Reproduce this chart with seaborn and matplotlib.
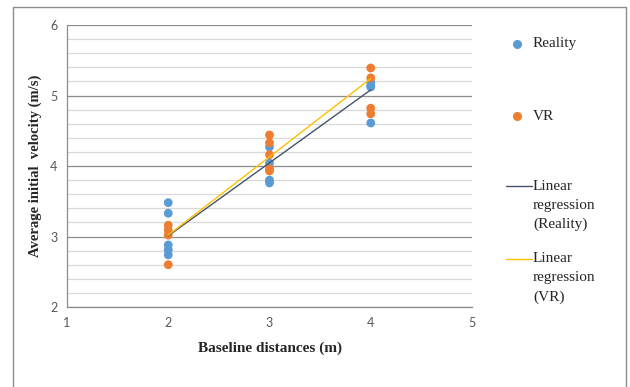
import pandas as pd
import matplotlib.pyplot as plt
import seaborn as sns
from matplotlib.lines import Line2D
from matplotlib.patches import Rectangle
from matplotlib.ticker import MultipleLocator

# punctele masurate
dist_reality = [2, 2, 2, 2, 2, 3, 3, 3, 3, 4, 4, 4, 4]
vel_reality = [3.48, 3.33, 2.88, 2.81, 2.74, 4.27, 4.04, 3.80, 3.76, 5.19, 5.14, 5.12, 4.61]
dist_vr = [2, 2, 2, 2, 3, 3, 3, 3, 3, 4, 4, 4, 4]
vel_vr = [3.16, 3.09, 3.02, 2.60, 4.44, 4.33, 4.16, 3.96, 3.93, 5.39, 5.25, 4.82, 4.74]

# dreptele de regresie (capetele)
reg_x = [2, 4]
reg_reality = [3.01, 5.08]
reg_vr = [3.02, 5.24]

c_reality = "#5B9BD5"
c_vr = "#ED7D31"
c_line_reality = "#44546A"
c_line_vr = "#FFC000"

df = pd.concat([
    pd.DataFrame({"dist": dist_reality, "vel": vel_reality, "serie": "Reality"}),
    pd.DataFrame({"dist": dist_vr, "vel": vel_vr, "serie": "VR"}),
])

sns.set_style("white")
fig = plt.figure(figsize=(6.3, 3.87), dpi=100)
ax = fig.add_axes([67 / 630, 1 - 307 / 387, 405 / 630, 282 / 387])

sns.scatterplot(data=df, x="dist", y="vel", hue="serie",
                palette={"Reality": c_reality, "VR": c_vr},
                s=40, edgecolor="none", legend=False, ax=ax, zorder=3)
sns.lineplot(x=reg_x, y=reg_reality, color=c_line_reality, lw=1.0, ax=ax, zorder=4)
sns.lineplot(x=reg_x, y=reg_vr, color=c_line_vr, lw=1.0, ax=ax, zorder=4)

ax.set_xlim(1, 5)
ax.set_ylim(2, 6)
ax.xaxis.set_major_locator(MultipleLocator(1))
ax.yaxis.set_major_locator(MultipleLocator(1))
ax.yaxis.set_minor_locator(MultipleLocator(0.2))
ax.grid(axis="y", which="major", color="#8c8c8c", lw=0.9)
ax.grid(axis="y", which="minor", color="#d9d9d9", lw=0.9)
ax.set_axisbelow(True)
for s in ["top", "right"]:
    ax.spines[s].set_visible(False)
for s in ["left", "bottom"]:
    ax.spines[s].set_color("#8c8c8c")
    ax.spines[s].set_linewidth(0.9)
ax.tick_params(axis="both", which="major", direction="out", length=4, width=0.9,
               color="#8c8c8c", labelcolor="#595959", labelsize=9, pad=3)
ax.tick_params(axis="both", which="minor", length=0)
for lab in ax.get_xticklabels() + ax.get_yticklabels():
    lab.set_family("Lato")

ax.set_xlabel("Baseline distances (m)", family="Liberation Serif", fontweight="bold",
              fontsize=11, labelpad=9)
ax.set_ylabel("Average initial  velocity (m/s)", family="Liberation Serif",
              fontweight="bold", fontsize=10.5, labelpad=6)

# legenda desenata manual in dreapta
def px(x, y):
    return x / 630, 1 - y / 387

for y, col, lab in [(44, c_reality, "Reality"), (116, c_vr, "VR")]:
    fig.add_artist(Line2D([px(517, y)[0]], [px(517, y)[1]], marker="o", ms=6.5,
                          color=col, mec="none", ls="none"))
    fig.text(*px(533, y), lab, family="Liberation Serif", fontsize=11,
             va="center", ha="left")
for y, col, lines in [(186, c_line_reality, ["Linear", "regression", "(Reality)"]),
                      (259, c_line_vr, ["Linear", "regression", "(VR)"])]:
    x0, yy = px(506, y)
    x1, _ = px(532, y)
    fig.add_artist(Line2D([x0, x1], [yy, yy], color=col, lw=1.0))
    for i, t in enumerate(lines):
        fig.text(*px(533, y + 19 * i), t, family="Liberation Serif", fontsize=11,
                 va="center", ha="left")

# chenarul exterior
fig.add_artist(Rectangle(px(13, 400), (626 - 13) / 630, (400 - 7) / 387,
                         fill=False, ec="#8c8c8c", lw=1.0, transform=fig.transFigure))

fig.savefig("out.png", dpi=100)
